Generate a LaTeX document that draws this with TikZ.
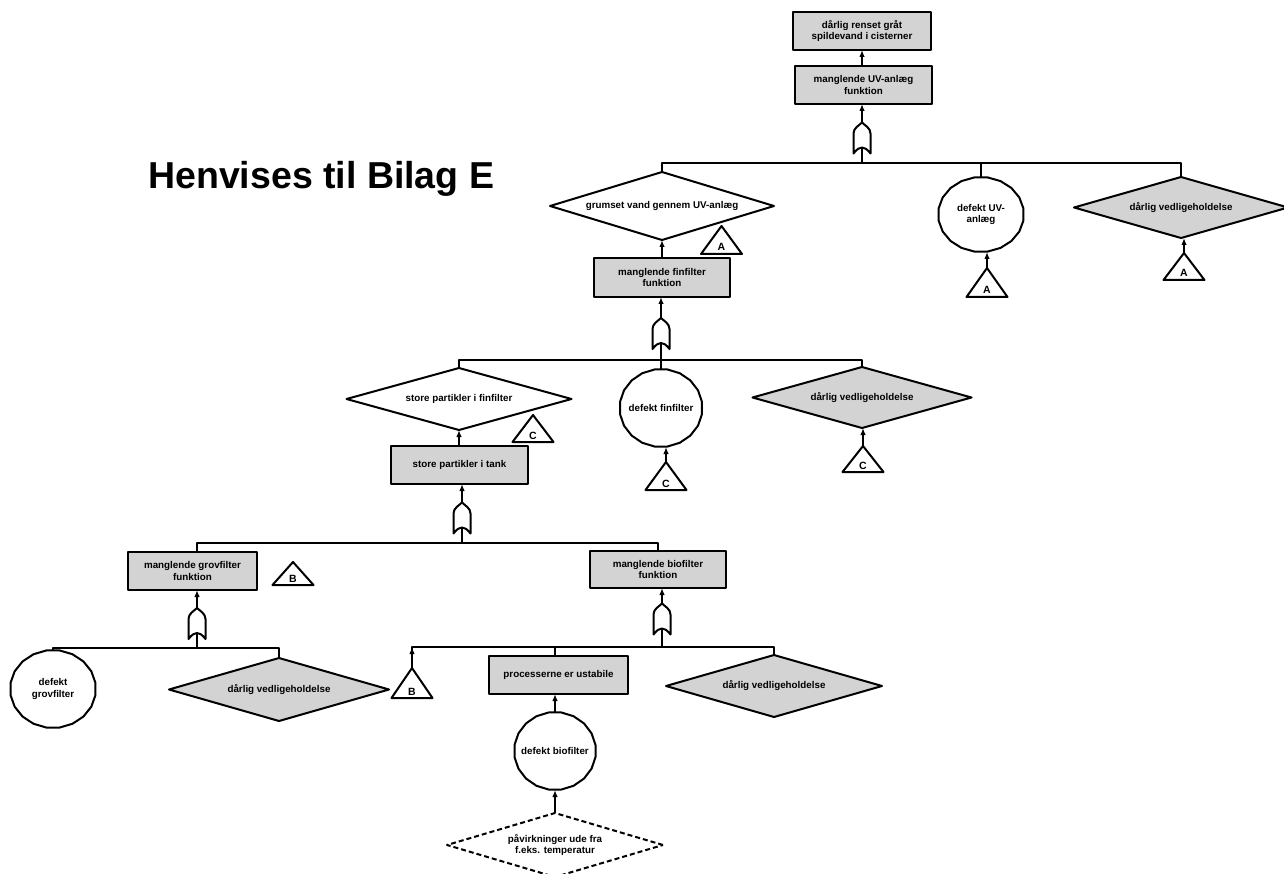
\documentclass[tikz,border=0pt]{standalone}
\usepackage{fontspec}
\setmainfont{Liberation Sans}
\usetikzlibrary{shapes.geometric,arrows.meta,calc}
\definecolor{boxgray}{RGB}{211,211,211}

\tikzset{
  ln/.style={line width=2pt, line join=round},
  arr/.style={ln, -{Latex[length=7pt,width=5.5pt]}},
  lbl/.style={font=\bfseries\fontsize{9.8}{11.5}\selectfont, align=center, text=black},
  evbox/.style={lbl, rectangle, draw, ln, fill=boxgray, minimum width=137pt,
    minimum height=38pt, inner sep=0pt, outer sep=0pt},
  cond/.style={lbl, diamond, draw, ln, fill=white, inner sep=0pt, outer sep=0pt},
  condg/.style={cond, fill=boxgray},
  basic/.style={lbl, ellipse, inner sep=0pt, outer sep=0pt},
  orgate/.pic={
    \draw[ln, fill=white] (-8.5,15.5) -- (-8.5,-4.5)
      .. controls (-8.5,-10) and (-3,-12.5) .. (0,-15.5)
      .. controls (3,-12.5) and (8.5,-10) .. (8.5,-4.5)
      -- (8.5,15.5)
      .. controls (5,11) and (2.5,9.5) .. (0,9.5)
      .. controls (-2.5,9.5) and (-5,11) .. (-8.5,15.5) -- cycle;
    \coordinate (-out) at (0,-15.5);
    \coordinate (-in) at (0,9.5);
  }
}

% basic event: polygonal ring around an invisible elliptic node
\newcommand\polyring[3]{%
  \draw[ln, shift={(#1.center)}] plot[samples=21, domain=9:369]
    ({#2*cos(\x)},{#3*sin(\x)}) -- cycle;}

% transfer triangle: name, apex x, apex y, height, letter
\newcommand\xfer[5]{%
  \coordinate (#1) at (#2,#3);
  \draw[ln, fill=white] (#1) -- ++(20.5,#4) -- ++(-41,0) -- cycle;
  \node[lbl, font=\bfseries\fontsize{10.5}{12}\selectfont, anchor=base, inner sep=0pt]
    (#1-t) at ($(#1)+(0,{#4-3})$) {#5};}

\begin{document}
\begin{tikzpicture}[x=1pt, y=-1pt]
\fill[white] (0,0) rectangle (1284,874);
\useasboundingbox (0,0) rectangle (1284,874);

\node[font=\bfseries\fontsize{37.5}{40}\selectfont, anchor=base west, inner sep=0pt]
  (ref) at (148,189) {Henvises til Bilag E};

% ---- top event and UV level
\node[evbox, minimum width=138pt] (top) at (862,31) {dårlig renset gråt\\spildevand i cisterner};
\node[evbox] (uv) at (863.5,85) {manglende UV-anlæg\\funktion};
\pic (g1) at (862,138) {orgate};
\coordinate (j1) at (862,163);

\node[cond, aspect=3.294, minimum width=224pt, minimum height=68pt] (dGrum) at (662,206) {grumset vand gennem UV-anlæg};
\node[basic, minimum width=86pt, minimum height=75pt] (cUV) at (981,214.5) {defekt UV-\\anlæg};
\polyring{cUV}{43}{37.5}
\node[condg, aspect=3.508, minimum width=214pt, minimum height=61pt] (dVedA) at (1181,207.5) {dårlig vedligeholdelse};

\xfer{tA1}{721.5}{226}{28}{A}
\xfer{tA2}{987}{268}{29}{A}
\xfer{tA3}{1184}{253}{27}{A}

\draw[arr] (top.south |- uv.north) -- (top.south);
\draw[arr] (g1-out) -- (g1-out |- uv.south);
\draw[ln] (g1-in) -- (j1);
\draw[ln] (dGrum.north) |- (j1);
\draw[ln] (cUV.north) |- (j1);
\draw[ln] (dVedA.north) |- (j1);
\draw[arr] (tA2) -- (tA2 |- cUV.south);
\draw[arr] (tA3) -- (tA3 |- dVedA.south);

% ---- fine filter level
\node[evbox, minimum width=136pt, minimum height=39pt] (fin) at (662,277.5) {manglende finfilter\\funktion};
\pic (g2) at (661,333.5) {orgate};
\coordinate (j2) at (661,360);

\node[cond, aspect=3.629, minimum width=225pt, minimum height=62pt] (dStore) at (459,399) {store partikler i finfilter};
\node[basic, minimum width=83pt, minimum height=78pt] (cFin) at (661,408) {defekt finfilter};
\polyring{cFin}{41.5}{39}
\node[condg, aspect=3.590, minimum width=219pt, minimum height=61pt] (dVedC) at (862,397.5) {dårlig vedligeholdelse};

\xfer{tC1}{533}{415}{27}{C}
\xfer{tC2}{666}{462}{28}{C}
\xfer{tC3}{863}{446}{26}{C}

\draw[arr] (fin.north) -- (fin.north |- dGrum.south);
\draw[arr] (g2-out) -- (g2-out |- fin.south);
\draw[ln] (g2-in) -- (j2);
\draw[ln] (dStore.north) |- (j2);
\draw[ln] (cFin.north) |- (j2);
\draw[ln] (dVedC.north) |- (j2);
\draw[arr] (tC2) -- (tC2 |- cFin.south);
\draw[arr] (tC3) -- (tC3 |- dVedC.south);

% ---- tank level
\node[evbox, minimum width=137pt] (tank) at (459.5,465) {store partikler i tank};
\pic (g3) at (462,518) {orgate};
\coordinate (j3) at (462,543);

\node[evbox, minimum width=129pt] (grov) at (192.5,571) {manglende grovfilter\\funktion};
\node[evbox, minimum width=136pt, minimum height=37pt] (bio) at (658,569.5) {manglende biofilter\\funktion};
\xfer{tB1}{293}{562}{23}{B}

\draw[arr] (dStore.south |- tank.north) -- (dStore.south);
\draw[arr] (g3-out) -- (g3-out |- tank.south);
\draw[ln] (g3-in) -- (j3);

% ---- coarse filter branch
\pic (g4) at (197,623.5) {orgate};
\coordinate (j4) at (197,648);
\node[basic, minimum width=86pt, minimum height=78pt] (cGrov) at (53,689) {defekt\\grovfilter};
\polyring{cGrov}{43}{39}
\node[condg, aspect=3.492, minimum width=220pt, minimum height=63pt] (dVedG) at (279,689.5) {dårlig vedligeholdelse};

\draw[ln] (grov.north -| g4-out) |- (j3);
\draw[ln] (bio.north) |- (j3);
\draw[arr] (g4-out) -- (g4-out |- grov.south);
\draw[ln] (g4-in) -- (j4);
\draw[ln] (cGrov.north) |- (j4);
\draw[ln] (dVedG.north) |- (j4);

% ---- bio filter branch
\pic (g5) at (662,619) {orgate};
\coordinate (j5) at (662,647);
\node[evbox, minimum width=139pt] (proc) at (558.5,675) {processerne er ustabile};
\node[basic, minimum width=82pt, minimum height=78pt] (cBio) at (555,751) {defekt biofilter};
\polyring{cBio}{41}{39}
\node[condg, aspect=3.484, minimum width=216pt, minimum height=62pt] (dVedB) at (774,686) {dårlig vedligeholdelse};
\node[cond, aspect=3.375, dash pattern=on 5pt off 3pt, minimum width=216pt, minimum height=64pt] (dPaa) at (555,845)
  {påvirkninger ude fra\\f.eks. temperatur};
\xfer{tB2}{412}{668}{30}{B}

\draw[arr] (g5-out) -- (g5-out |- bio.south);
\draw[ln] (g5-in) -- (j5);
\draw[ln] (j5) -| (tB2);
\draw[arr] (tB2) -- (tB2 |- j5);
\draw[ln] (cBio.north |- proc.north) |- (j5);
\draw[ln] (dVedB.north) |- (j5);
\draw[arr] (cBio.north) -- (cBio.north |- proc.south);
\draw[arr] (dPaa.north) -- (dPaa.north |- cBio.south);

\end{tikzpicture}
\end{document}
